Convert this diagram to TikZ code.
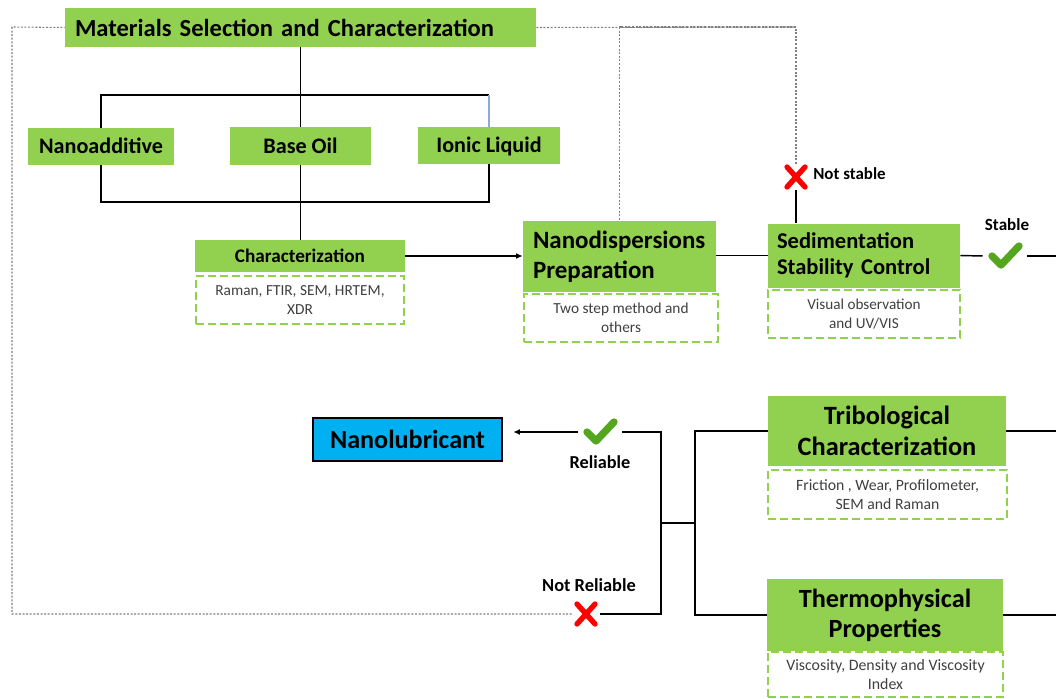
\documentclass[tikz,border=0pt]{standalone}
\usepackage{fontspec}
\setmainfont{Carlito}
\usetikzlibrary{arrows.meta}
\definecolor{lgreen}{HTML}{92D050}
\definecolor{ckgreen}{RGB}{84,166,30}
\definecolor{dgray}{HTML}{404040}
\definecolor{nblue}{HTML}{00B0F0}
\definecolor{lblue}{HTML}{8EA9DB}
\begin{document}
\begin{tikzpicture}[x=0.75pt,y=-0.75pt,
  gbox/.style={fill=lgreen, draw=none, inner sep=0pt, align=center},
  sbox/.style={gbox, text height=13pt, text depth=2.4pt, font=\bfseries\fontsize{16.6}{19}\selectfont},
  dbox/.style={draw=lgreen, line width=1.9pt, dash pattern=on 6pt off 3pt, fill=white, inner sep=0pt, text=dgray, align=center, font=\fontsize{11.5}{14}\selectfont},
  conn/.style={line width=1.1pt, black},
  loopline/.style={gray, line width=0.8pt, dash pattern=on 1.5pt off 1.2pt},
  lab/.style={font=\bfseries\fontsize{12.8}{15}\selectfont, inner sep=0pt},
  markbox/.style={inner sep=0pt, minimum width=18pt, minimum height=19.5pt},
  chkbox/.style={inner sep=0pt, minimum width=33pt, minimum height=18pt},
  xline/.style={red, line width=4pt, line cap=round},
  cline/.style={ckgreen, line width=5.5pt, line cap=round, line join=round},
  arr/.style={conn, -{Latex[length=5pt,width=4.5pt]}}
]
\useasboundingbox (0,0) rectangle (1056,699);

% top group
\node[gbox, minimum width=353.25pt, minimum height=29.25pt, text width=338.25pt, inner xsep=7.5pt, align=left, font=\bfseries\fontsize{18.4}{22}\selectfont] (title) at (300.5,27.5) {Materials Selection and Characterization};
\node[sbox, minimum width=109.5pt, minimum height=27.75pt] (nano) at (101,146.5) {Nanoadditive};
\node[sbox, minimum width=105.75pt, minimum height=28.5pt] (base) at (300.5,146) {Base Oil};
\node[sbox, minimum width=106.5pt, minimum height=27.75pt] (ionic) at (489,145.5) {Ionic Liquid};
\node[gbox, minimum width=157.5pt, minimum height=24pt, font=\bfseries\fontsize{14.4}{17}\selectfont] (charac) at (300,256) {Characterization};
\node[dbox, minimum width=156pt, minimum height=36pt] (characd) at (300,300) {Raman, FTIR, SEM, HRTEM,\\XDR};

% preparation
\node[gbox, minimum width=144.75pt, minimum height=53.25pt, text width=129.75pt, inner xsep=7.5pt, align=left, font=\bfseries\fontsize{18.7}{22.5}\selectfont] (nd) at (619.5,256.5) {Nanodispersions\\Preparation};
\node[dbox, minimum width=145.5pt, minimum height=36pt] (ndd) at (621,318) {Two step method and\\others};

% sedimentation
\node[gbox, minimum width=144pt, minimum height=48pt, text width=130.5pt, inner xsep=6.75pt, align=left, font=\bfseries\fontsize{16.9}{20}\selectfont] (sed) at (864,255.5) {Sedimentation\\Stability Control};
\node[dbox, minimum width=144pt, minimum height=36pt, font=\fontsize{11.4}{14}\selectfont] (sedd) at (864,314) {Visual observation\\and UV/VIS};

% tribological / thermophysical
\node[gbox, minimum width=178.5pt, minimum height=52.5pt, font=\bfseries\fontsize{19.8}{23}\selectfont] (trib) at (887,431) {Tribological\\Characterization};
\node[dbox, minimum width=179.25pt, minimum height=36.75pt, font=\fontsize{11.8}{14}\selectfont] (tribd) at (887.5,494.5) {Friction , Wear, Profilometer,\\SEM and Raman};
\node[gbox, minimum width=177pt, minimum height=54pt, font=\bfseries\fontsize{19.7}{22.5}\selectfont] (thermo) at (885,615) {Thermophysical\\Properties};
\node[dbox, minimum width=176.25pt, minimum height=33.75pt, font=\fontsize{11.9}{14}\selectfont] (thermod) at (885.5,674.5) {Viscosity, Density and Viscosity\\Index};

% nanolubricant
\node[fill=nblue, draw=black, line width=1.9pt, inner sep=0pt, minimum width=141.75pt, minimum height=32.25pt, font=\bfseries\fontsize{19.6}{22}\selectfont] (nlub) at (407.5,439.5) {Nanolubricant};

% marks
\node[markbox] (xns) at (796,177) {};
\draw[xline] ([shift={(-9,-10)}]xns.center) -- ([shift={(9,10)}]xns.center)
             ([shift={(9,-10)}]xns.center) -- ([shift={(-9,10)}]xns.center);
\node[lab, anchor=west, font=\bfseries\fontsize{12.7}{15}\selectfont] (lns) at (813,174) {Not stable};

\node[chkbox] (chkS) at (1005,256) {};
\draw[cline] ([shift={(-13,0)}]chkS.center) -- ([shift={(-4,9)}]chkS.center) -- ([shift={(14,-10)}]chkS.center);
\node[lab] (lst) at (1007,225) {Stable};

\node[chkbox] (chkR) at (600,432) {};
\draw[cline] ([shift={(-13,0)}]chkR.center) -- ([shift={(-4,9)}]chkR.center) -- ([shift={(14,-10)}]chkR.center);
\node[lab, font=\bfseries\fontsize{13.7}{16}\selectfont] (lrel) at (600,462) {Reliable};

\node[markbox, minimum width=21pt] (xnr) at (586,614) {};
\draw[xline] ([shift={(-9,-10)}]xnr.center) -- ([shift={(9,10)}]xnr.center)
             ([shift={(9,-10)}]xnr.center) -- ([shift={(-9,10)}]xnr.center);
\node[lab, font=\bfseries\fontsize{13.8}{16}\selectfont] (lnrel) at (589,585) {Not Reliable};

% coordinates
\coordinate (tj) at (300.5,95);
\coordinate (bj) at (300.5,202);
\coordinate (d1) at (796,27);
\coordinate (c1) at (12,614);
\coordinate (c2) at (12,27);
\coordinate (eS) at (1056,256);
\coordinate (eT) at (1056,431);
\coordinate (eH) at (1056,615);
\coordinate (bl) at (695,523);
\coordinate (br) at (661,523);

% connectors top
\draw[conn] (title.south) -- (base.north);
\draw[conn] (nano.north) |- (tj) -- (tj -| ionic.north);
\draw[line width=1.1pt, lblue] (tj -| ionic.north) -- (ionic.north);
\draw[conn] (nano.south) |- (bj) -| (ionic.south);
\draw[conn] (base.south) -- (base.south |- charac.north);
\draw[arr] (charac.east) -- (charac.east -| nd.west);
\draw[conn] (nd.east |- sed.west) -- (sed.west);
\draw[conn] (xns.south) -- (xns.south |- sed.north);
\draw[conn] (sed.east) -- (chkS.west);
\draw[conn] (chkS.east) -- (eS);

% loops
\draw[loopline] (xns.north) -- (d1) -| (nd.north);
\draw[loopline] (title.east) -- (d1);
\draw[loopline] (xnr.west) -- (c1) -- (c2) -- (title.west);

% lower right
\draw[conn] (trib.east) -- (eT);
\draw[conn] (thermo.east) -- (eH);
\draw[conn] (trib.west) -| (bl) |- (thermo.west);
\draw[conn] (bl) -- (br);
\draw[conn] (chkR.east) -| (br) |- (xnr.east);
\draw[arr] (chkR.west) -- ([xshift=7.5pt]chkR.west -| nlub.east);
\end{tikzpicture}
\end{document}
